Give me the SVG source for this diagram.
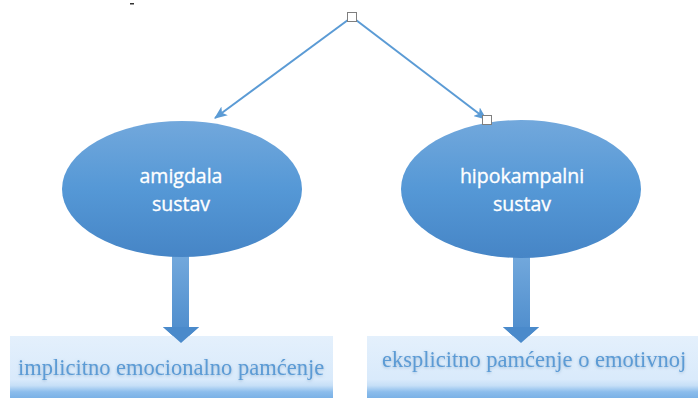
<svg xmlns="http://www.w3.org/2000/svg" width="698" height="398" viewBox="0 0 698 398">
<defs>
<linearGradient id="ell" x1="0" y1="0" x2="0" y2="1">
<stop offset="0" stop-color="#72a8dc"/>
<stop offset="0.5" stop-color="#5598d6"/>
<stop offset="1" stop-color="#4685c6"/>
</linearGradient>
<linearGradient id="shaft" x1="0" y1="0" x2="0" y2="1">
<stop offset="0" stop-color="#72a8dc"/>
<stop offset="1" stop-color="#4a8acb"/>
</linearGradient>
<linearGradient id="box" x1="0" y1="0" x2="0" y2="1">
<stop offset="0" stop-color="#e4f0fc"/>
<stop offset="0.7" stop-color="#d9eafb"/>
<stop offset="0.8" stop-color="#c6dff7"/>
<stop offset="0.9" stop-color="#8cbdec"/>
<stop offset="1" stop-color="#7ab1e6"/>
</linearGradient>
<marker id="ah" viewBox="0 0 12 10" refX="11" refY="5" markerWidth="13" markerHeight="11" orient="auto" markerUnits="userSpaceOnUse">
<path d="M0,0 L12,5 L0,10 L3,5 z" fill="#5b9bd5"/>
</marker>
<filter id="glow" x="-5%" y="-30%" width="110%" height="160%">
<feGaussianBlur in="SourceAlpha" stdDeviation="1.5"/>
<feOffset dx="0" dy="1" result="b"/>
<feFlood flood-color="#7d9fc0" flood-opacity="0.6"/>
<feComposite in2="b" operator="in" result="s"/>
<feMerge><feMergeNode in="s"/><feMergeNode in="SourceGraphic"/></feMerge>
</filter>
</defs>
<style>
.conn{stroke:#5b9bd5;stroke-width:2;fill:none}
.handle{fill:#ffffff;stroke:#7f7f7f;stroke-width:1}
.etext{font-family:"Open Sans","Liberation Sans",sans-serif;font-size:19.5px;fill:#ffffff;stroke:#ffffff;stroke-width:0.35;text-anchor:middle}
.btext{font-family:"Liberation Serif",serif;font-size:22.5px;fill:#5b9bd5}
</style>
<rect x="130" y="3" width="4" height="1.5" fill="#333"/>
<g id="connectors">
<line class="conn" x1="352" y1="17" x2="215" y2="118" marker-end="url(#ah)"/>
<line class="conn" x1="352" y1="17" x2="486" y2="119" marker-end="url(#ah)"/>
<rect class="handle" x="347.5" y="12.5" width="9" height="9"/>
<path d="M172,256 H189 V327 H199 L181,343 L163,327 H172 Z" fill="url(#shaft)"/>
<path d="M513,256 H530 V327 H539 L521,343 L503,327 H513 Z" fill="url(#shaft)"/>
</g>
<g id="amigdala">
<ellipse cx="182" cy="189" rx="120" ry="68" fill="url(#ell)"/>
<text class="etext" x="181" y="183">amigdala</text>
<text class="etext" x="181" y="211">sustav</text>
</g>
<g id="hipokampalni">
<ellipse cx="521" cy="189" rx="120" ry="69" fill="url(#ell)"/>
<text class="etext" x="522" y="183">hipokampalni</text>
<text class="etext" x="522" y="211">sustav</text>
<rect class="handle" x="482.5" y="115.5" width="9" height="9"/>
</g>
<g id="implicitno">
<rect x="10" y="336" width="323" height="62" fill="url(#box)"/>
<text class="btext" x="18" y="375" filter="url(#glow)">implicitno emocionalno pamćenje</text>
</g>
<g id="eksplicitno">
<rect x="367" y="336" width="331" height="62" fill="url(#box)"/>
<text class="btext" x="382" y="367" filter="url(#glow)">eksplicitno pamćenje o emotivnoj</text>
</g>
<path d="M163,327 H199 L181,343 Z" fill="#4a8acb"/>
<path d="M503,327 H539 L521,343 Z" fill="#4a8acb"/>
</svg>
